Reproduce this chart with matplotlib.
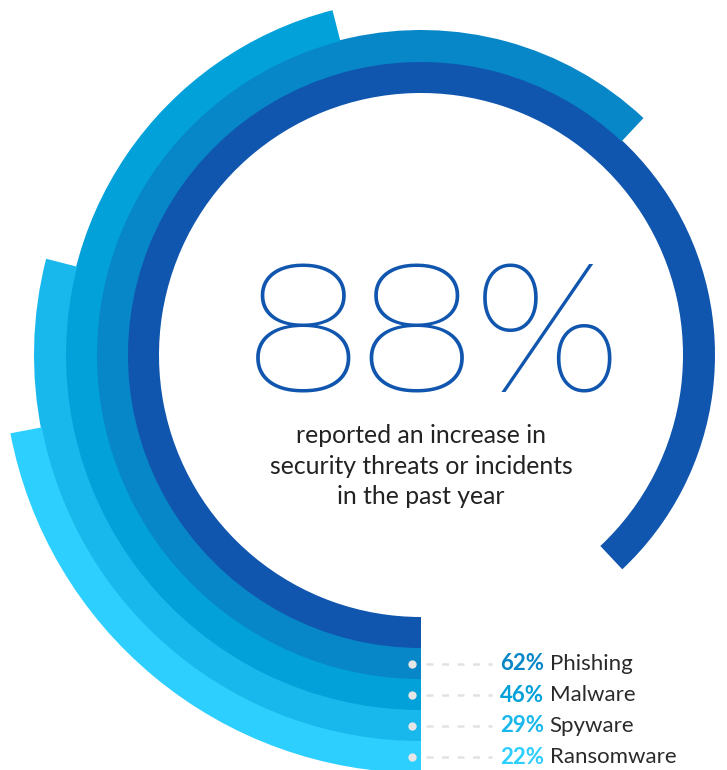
import numpy as np
import matplotlib.pyplot as plt

# data
labels = ["Phishing", "Malware", "Spyware", "Ransomware"]
shares = [62, 46, 29, 22]
headline = 88
headline_text = "reported an increase in\nsecurity threats or incidents\nin the past year"

ring_colors = ["#0786c8", "#02a1da", "#19b8ec", "#2dcfff"]
main_color = "#1055ae"
body_font = "Lato"

W, H = 727, 770
cx, cy = 421, 355          # ring centre in pixels (y from top)
R = 440                    # radius shown by the polar axes
r0, ring_w = 278, 31

fig = plt.figure(figsize=(W / 100, H / 100), dpi=100)

ax = fig.add_axes([(cx - R) / W, (H - cy - R) / H, 2 * R / W, 2 * R / H],
                  projection="polar")
ax.set_theta_zero_location("S")
ax.set_theta_direction(-1)
ax.set_ylim(0, R)
ax.axis("off")

radii = [r0 + ring_w * (i + 1) for i in range(len(shares))]
ax.barh(r0, np.deg2rad(headline * 3.6), left=0, height=ring_w + 1,
        color=main_color, align="center")
ax.barh(radii, np.deg2rad(np.array(shares) * 3.6), left=0, height=ring_w + 1,
        color=ring_colors, align="center")

# overlay in pixel coordinates
ov = fig.add_axes([0, 0, 1, 1])
ov.set_xlim(0, W)
ov.set_ylim(H, 0)
ov.axis("off")

ov.text(434, 342, f"{headline}%", fontsize=132, fontfamily="Montserrat",
        fontweight=300, color=main_color, ha="center", va="center")
ov.text(cx, 466, headline_text, fontsize=17.8, fontfamily=body_font,
        color="#222222", ha="center", va="center", linespacing=1.42)

for r, lab, val, col in zip(radii, labels, shares, ring_colors):
    y = cy + r
    ov.plot([426, 492], [y, y], color="#e2e2e2", lw=1.8, dashes=(2.8, 3.4))
    ov.plot(412, y, "o", ms=6, color="#e6e6e6", mec="none")
    t = ov.text(500, y, f"{val}%", fontsize=16, fontfamily=body_font,
                fontweight="bold", color=col, ha="left", va="center")
    ov.annotate(lab, xy=(1, 0.5), xycoords=t, xytext=(4, 0),
                textcoords="offset points", fontsize=16, fontfamily=body_font,
                color="#2a2a2a", ha="left", va="center")

fig.savefig("out.png", dpi=100)
